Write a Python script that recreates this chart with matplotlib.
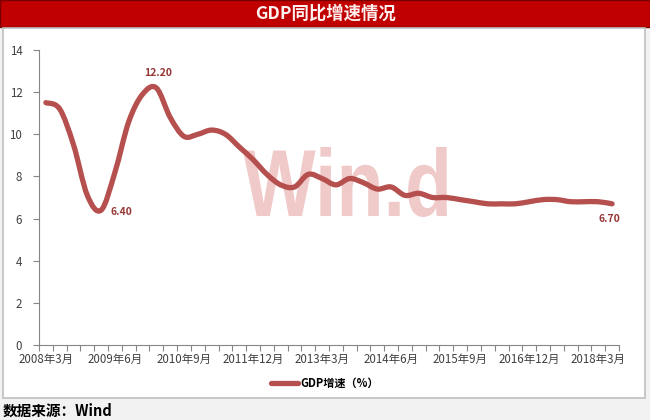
import matplotlib
matplotlib.use("Agg")

import matplotlib.pyplot as plt
from matplotlib.font_manager import FontProperties
from matplotlib.lines import Line2D
from matplotlib.patches import PathPatch, Rectangle
from matplotlib.path import Path
from matplotlib.textpath import TextPath
from matplotlib.transforms import Affine2D
import numpy as np

plt.rcParams["font.family"] = ["Noto Sans CJK SC", "DejaVu Sans"]

# 季度 GDP 同比增速（%），2008Q1 - 2018Q2
quarters = [
    "2008年3月", "2008年6月", "2008年9月", "2008年12月",
    "2009年3月", "2009年6月", "2009年9月", "2009年12月",
    "2010年3月", "2010年6月", "2010年9月", "2010年12月",
    "2011年3月", "2011年6月", "2011年9月", "2011年12月",
    "2012年3月", "2012年6月", "2012年9月", "2012年12月",
    "2013年3月", "2013年6月", "2013年9月", "2013年12月",
    "2014年3月", "2014年6月", "2014年9月", "2014年12月",
    "2015年3月", "2015年6月", "2015年9月", "2015年12月",
    "2016年3月", "2016年6月", "2016年9月", "2016年12月",
    "2017年3月", "2017年6月", "2017年9月", "2017年12月",
    "2018年3月", "2018年6月",
]
gdp = [
    11.5, 11.2, 9.5, 7.1,
    6.4, 8.2, 10.6, 11.9,
    12.2, 10.8, 9.9, 10.0,
    10.2, 10.0, 9.4, 8.8,
    8.1, 7.6, 7.5, 8.1,
    7.9, 7.6, 7.9, 7.7,
    7.4, 7.5, 7.1, 7.2,
    7.0, 7.0, 6.9, 6.8,
    6.7, 6.7, 6.7, 6.8,
    6.9, 6.9, 6.8, 6.8,
    6.8, 6.7,
]
label_idx = [0, 5, 10, 15, 20, 25, 30, 35, 40]
marked = [4, 8, 41]

LINE = "#b5504e"
TXT = "#953735"


def smooth_path(xs, ys):
    # Bezier 平滑（类似 Excel 的平滑线）
    pts = np.column_stack([xs, ys])
    n = len(pts)
    verts = [pts[0]]
    codes = [Path.MOVETO]
    for i in range(n - 1):
        p0 = pts[max(i - 1, 0)]
        p1 = pts[i]
        p2 = pts[i + 1]
        p3 = pts[min(i + 2, n - 1)]
        c1 = p1 + (p2 - p0) / 6
        c2 = p2 - (p3 - p1) / 6
        verts += [c1, c2, p2]
        codes += [Path.CURVE4] * 3
    return Path(verts, codes)


W, H = 650, 420
fig = plt.figure(figsize=(6.5, 4.2), dpi=100, facecolor="#f2f2f2")

# 标题栏
fig.patches.append(Rectangle((0, 1 - 27 / H), 1, 27 / H, transform=fig.transFigure,
                             facecolor="#c00000", edgecolor="#7a0000", lw=1, zorder=-2))
fig.text(0.5, 1 - 14 / H, "GDP同比增速情况", ha="center", va="center",
         color="#fff0f0", fontsize=12.5, fontweight="bold")

# 图表白色区域
fig.patches.append(Rectangle((3 / W, 22 / H), 642 / W, 370 / H, transform=fig.transFigure,
                             facecolor="white", edgecolor="#bfbfbf", lw=1.2, zorder=-2))

ax_box = [39 / W, (H - 345) / H, 580 / W, 295 / H]
ax = fig.add_axes(ax_box)
ax.set_facecolor("none")

x = np.arange(len(gdp))
ax.add_patch(PathPatch(smooth_path(x, gdp), fill=False, edgecolor=LINE, lw=3.8,
                       capstyle="round", joinstyle="round", zorder=3))

# 水印（压扁的文字路径，放在轴坐标里）
tp = TextPath((0, 0), "Win.d", size=1, prop=FontProperties(family="Liberation Sans", weight="bold"))
ext = tp.get_extents()
x0, x1 = (243 - 39) / 580, (447 - 39) / 580
y0, y1 = (345 - 217) / 295, (345 - 147) / 295
wm = Affine2D().translate(-ext.x0, -ext.y0).scale((x1 - x0) / ext.width, (y1 - y0) / ext.height) \
    .translate(x0, y0)
ax.add_patch(PathPatch(wm.transform_path(tp), transform=ax.transAxes, facecolor="#eec0c0",
                       edgecolor="none", alpha=0.85, zorder=1))

ax.set_xlim(-0.5, len(gdp) - 0.5)
ax.set_ylim(0, 14)
ax.set_yticks(range(0, 15, 2))
ax.set_xticks(np.arange(-0.5, len(gdp), 1))
ax.set_xticklabels([])
ax.set_xticks(label_idx, minor=True)
ax.set_xticklabels([quarters[i] for i in label_idx], minor=True)
ax.tick_params(axis="x", which="major", length=4, color="#868686", direction="out")
ax.tick_params(axis="x", which="minor", length=0, pad=6, labelsize=8.3, labelcolor="#404040")
ax.tick_params(axis="y", length=4, color="#868686", labelsize=8.3, labelcolor="#404040", pad=8)
for s in ["top", "right"]:
    ax.spines[s].set_visible(False)
for s in ["left", "bottom"]:
    ax.spines[s].set_color("#868686")

offsets = {4: (20, -2), 8: (2, 15), 41: (-3, -15)}
for i in marked:
    ax.annotate(f"{gdp[i]:.2f}", (x[i], gdp[i]), xytext=offsets[i], textcoords="offset pixels",
                ha="center", va="center", fontsize=7.5, fontweight="bold", color=TXT)

handle = Line2D([], [], color=LINE, lw=3.8, solid_capstyle="round")
fig.legend([handle], ["GDP增速（%）"], loc="center", bbox_to_anchor=(325 / W, (H - 383) / H),
           frameon=False, prop={"size": 8, "weight": "bold"}, handlelength=2.4,
           handletextpad=0.2)

fig.text(3 / W, 9 / H, "数据来源：Wind", ha="left", va="center", fontsize=10.5,
         fontweight="bold", color="black")

fig.savefig("out.png", dpi=100, facecolor=fig.get_facecolor())
